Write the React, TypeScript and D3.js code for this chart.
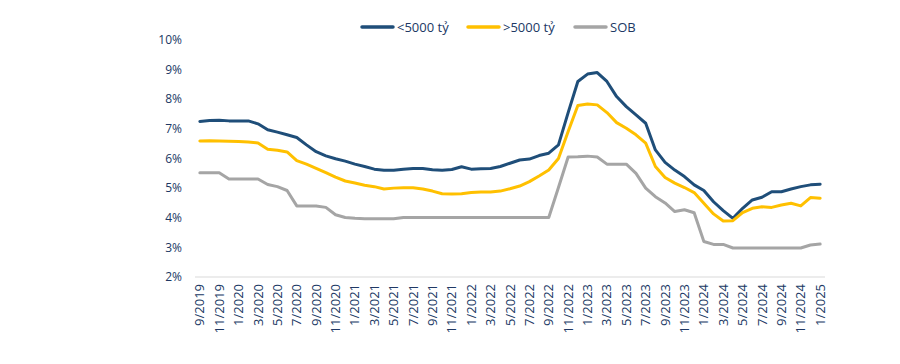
import React from "react";
import * as d3 from "d3";

const months = [
  "9/2019", "10/2019", "11/2019", "12/2019",
  "1/2020", "2/2020", "3/2020", "4/2020", "5/2020", "6/2020", "7/2020", "8/2020", "9/2020", "10/2020", "11/2020", "12/2020",
  "1/2021", "2/2021", "3/2021", "4/2021", "5/2021", "6/2021", "7/2021", "8/2021", "9/2021", "10/2021", "11/2021", "12/2021",
  "1/2022", "2/2022", "3/2022", "4/2022", "5/2022", "6/2022", "7/2022", "8/2022", "9/2022", "10/2022", "11/2022", "12/2022",
  "1/2023", "2/2023", "3/2023", "4/2023", "5/2023", "6/2023", "7/2023", "8/2023", "9/2023", "10/2023", "11/2023", "12/2023",
  "1/2024", "2/2024", "3/2024", "4/2024", "5/2024", "6/2024", "7/2024", "8/2024", "9/2024", "10/2024", "11/2024", "12/2024",
  "1/2025",
];

// <5000 tỷ
const small = [
  7.25, 7.28, 7.29, 7.27, 7.27, 7.27, 7.17, 6.97, 6.89, 6.8, 6.71, 6.46, 6.23, 6.09, 5.99, 5.91,
  5.81, 5.73, 5.64, 5.6, 5.6, 5.64, 5.66, 5.66, 5.62, 5.6, 5.63, 5.72, 5.64, 5.65, 5.66, 5.73,
  5.84, 5.95, 5.98, 6.1, 6.18, 6.46, 7.55, 8.6, 8.85, 8.9, 8.6, 8.09, 7.75, 7.47, 7.19, 6.29,
  5.87, 5.61, 5.39, 5.11, 4.92, 4.54, 4.24, 3.98, 4.32, 4.6, 4.69, 4.88, 4.88, 4.97, 5.05, 5.11,
  5.13,
];

// >5000 tỷ
const large = [
  6.59, 6.6, 6.59, 6.58, 6.57, 6.56, 6.52, 6.31, 6.28, 6.22, 5.93, 5.81, 5.67, 5.52, 5.37, 5.24,
  5.17, 5.1, 5.05, 4.97, 5.0, 5.01, 5.01, 4.97, 4.9, 4.81, 4.8, 4.81, 4.85, 4.87, 4.87, 4.9,
  4.98, 5.07, 5.22, 5.41, 5.61, 6.0, 6.91, 7.79, 7.84, 7.81, 7.55, 7.21, 7.02, 6.8, 6.52, 5.73,
  5.36, 5.17, 5.02, 4.85, 4.49, 4.13, 3.89, 3.9, 4.17, 4.32, 4.37, 4.35, 4.43, 4.49, 4.4, 4.68,
  4.66,
];

// SOB
const sob = [
  5.52, 5.52, 5.52, 5.31, 5.31, 5.31, 5.31, 5.12, 5.05, 4.92, 4.4, 4.4, 4.4, 4.35, 4.1, 4.01,
  3.98, 3.97, 3.97, 3.97, 3.97, 4.01, 4.01, 4.01, 4.01, 4.01, 4.01, 4.01, 4.01, 4.01, 4.01, 4.01,
  4.01, 4.01, 4.01, 4.01, 4.01, 5.02, 6.05, 6.06, 6.08, 6.05, 5.81, 5.81, 5.81, 5.5, 5.0, 4.71,
  4.5, 4.21, 4.27, 4.17, 3.2, 3.1, 3.1, 2.98, 2.98, 2.98, 2.98, 2.98, 2.98, 2.98, 2.98, 3.08,
  3.11,
];

const yTicks = [2, 3, 4, 5, 6, 7, 8, 9, 10];

const series = [
  { name: "<5000 tỷ", values: small, color: "#1F4E79" },
  { name: ">5000 tỷ", values: large, color: "#FFC000" },
  { name: "SOB", values: sob, color: "#A5A5A5" },
];

const legendX = [362, 468, 575];

const textColor = "#203864";
const font = "'Open Sans', sans-serif";

export default function App() {
  const width = 900;
  const height = 364;

  const x = d3.scaleBand<string>().domain(months).range([195, 825]);
  const y = d3.scaleLinear().domain([2, 10]).range([277, 40]);
  const cx = (m: string) => (x(m) as number) + x.bandwidth() / 2;

  const line = d3
    .line<number>()
    .x((_, i) => cx(months[i]))
    .y((d) => y(d));

  return (
    <svg
      width={width}
      height={height}
      style={{ position: "absolute", left: 0, top: 0, background: "#fff" }}
      fontFamily={font}
    >
      {/* y axis labels */}
      {yTicks.map((t) => (
        <text
          key={t}
          x={182}
          y={y(t)}
          dy="0.35em"
          textAnchor="end"
          fontSize={12}
          fill={textColor}
        >
          {t}%
        </text>
      ))}

      {/* x axis line */}
      <line x1={195} x2={825} y1={y(2)} y2={y(2)} stroke="#D9D9D9" strokeWidth={1} />

      {/* x labels every 2 months */}
      {months.map((m, i) =>
        i % 2 === 0 ? (
          <text
            key={m}
            transform={`translate(${cx(m)},284) rotate(-90)`}
            dy="0.35em"
            textAnchor="end"
            fontSize={13}
            fill={textColor}
          >
            {m}
          </text>
        ) : null
      )}

      {/* lines */}
      {series.map((s) => (
        <path
          key={s.name}
          d={line(s.values) || ""}
          fill="none"
          stroke={s.color}
          strokeWidth={3}
          strokeLinejoin="round"
          strokeLinecap="round"
        />
      ))}

      {/* legend */}
      {series.map((s, i) => (
        <g key={s.name} transform={`translate(${legendX[i]},27)`}>
          <line x1={0} x2={31} y1={0} y2={0} stroke={s.color} strokeWidth={3.5} strokeLinecap="round" />
          <text x={35} y={0} dy="0.35em" fontSize={13} fill={textColor}>
            {s.name}
          </text>
        </g>
      ))}
    </svg>
  );
}
